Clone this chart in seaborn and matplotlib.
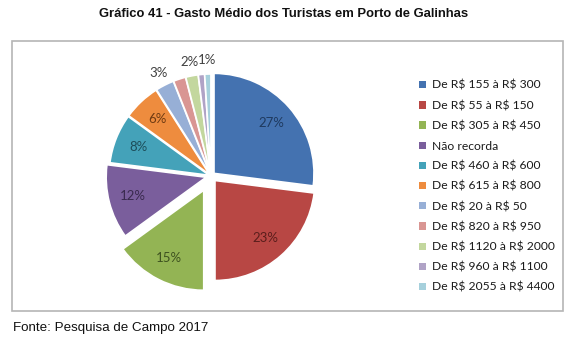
import numpy as np
import matplotlib
matplotlib.use("Agg")
import matplotlib.pyplot as plt
from matplotlib.patches import Rectangle, Patch
import seaborn as sns

sns.set_theme(style="white")
plt.rcParams["font.family"] = ["Lato", "DejaVu Sans"]

categories = [
    "De R$ 155 à R$ 300",
    "De R$ 55 à R$ 150",
    "De R$ 305 à R$ 450",
    "Não recorda",
    "De R$ 460 à R$ 600",
    "De R$ 615 à R$ 800",
    "De R$ 20 à R$ 50",
    "De R$ 820 à R$ 950",
    "De R$ 1120 à R$ 2000",
    "De R$ 960 à R$ 1100",
    "De R$ 2055 à R$ 4400",
]
shares = [27, 23, 15, 12, 8, 6, 3, 2, 2, 1, 1]
# which slices carry a percentage label
show_label = [True, True, True, True, True, True, True, False, True, False, True]

colors = ["#4472B0", "#B84744", "#93B454", "#7A5E9C", "#44A2B9", "#EE8C3E",
          "#97AFD6", "#D99693", "#C3D79E", "#B0A3C6", "#A6D0DC"]
label_colors = ["#1F3A5F", "#5A1E1C", "#3E5220", "#3A2A4E", "#1D4E5A", "#6E3A12",
                "#404040", "#404040", "#404040", "#404040", "#404040"]
explode = [0.04, 0.06, 0.16, 0.05, 0.02, 0.02, 0.02, 0.02, 0.02, 0.02, 0.02]

W, H = 569, 340
fig = plt.figure(figsize=(W / 100, H / 100), dpi=100)
fig.patch.set_facecolor("white")

# chart frame
fig.add_artist(Rectangle((12 / W, (H - 311) / H), (563 - 12) / W, (311 - 41) / H,
                         transform=fig.transFigure, fill=False,
                         edgecolor="#B5B5B5", linewidth=1.2))

cx, cy, half = 211, 176, 115
ax = fig.add_axes([(cx - half) / W, (H - cy - half) / H, 2 * half / W, 2 * half / H])

wedges, _ = ax.pie(shares, colors=colors, explode=explode, startangle=90,
                   counterclock=False, radius=1.0,
                   wedgeprops=dict(edgecolor="white", linewidth=1.2))
ax.set_xlim(-1.15, 1.15)
ax.set_ylim(-1.15, 1.15)
ax.set_aspect("equal")
ax.axis("off")

for w, v, c, show in zip(wedges, shares, label_colors, show_label):
    if not show:
        continue
    ang = np.deg2rad((w.theta1 + w.theta2) / 2)
    x0, y0 = w.center
    d = 0.76 if v >= 5 else 1.14
    ax.text(x0 + d * np.cos(ang), y0 + d * np.sin(ang), f"{v}%",
            ha="center", va="center", fontsize=9.5, color=c)

handles = [Patch(facecolor=c, edgecolor="none") for c in colors]
legend_labels = [s.replace("$", r"\$") for s in categories]
fig.legend(handles, legend_labels, loc="upper left",
           bbox_to_anchor=(419 / W, (H - 80) / H), frameon=False,
           fontsize=8.7, handlelength=0.55, handleheight=0.55,
           handletextpad=0.5, labelspacing=0.76, labelcolor="#1A1A1A",
           borderaxespad=0, borderpad=0)

fig.text(284 / W, 1 - 14 / H, "Gráfico 41 - Gasto Médio dos Turistas em Porto de Galinhas",
         ha="center", va="center", fontsize=9.4, fontweight="bold",
         family=["Liberation Sans", "DejaVu Sans"], color="#111111")
fig.text(13 / W, 1 - 328 / H, "Fonte: Pesquisa de Campo 2017",
         ha="left", va="center", fontsize=9.6,
         family=["Liberation Sans", "DejaVu Sans"], color="#111111")

fig.savefig("out.png", dpi=100, facecolor="white")
